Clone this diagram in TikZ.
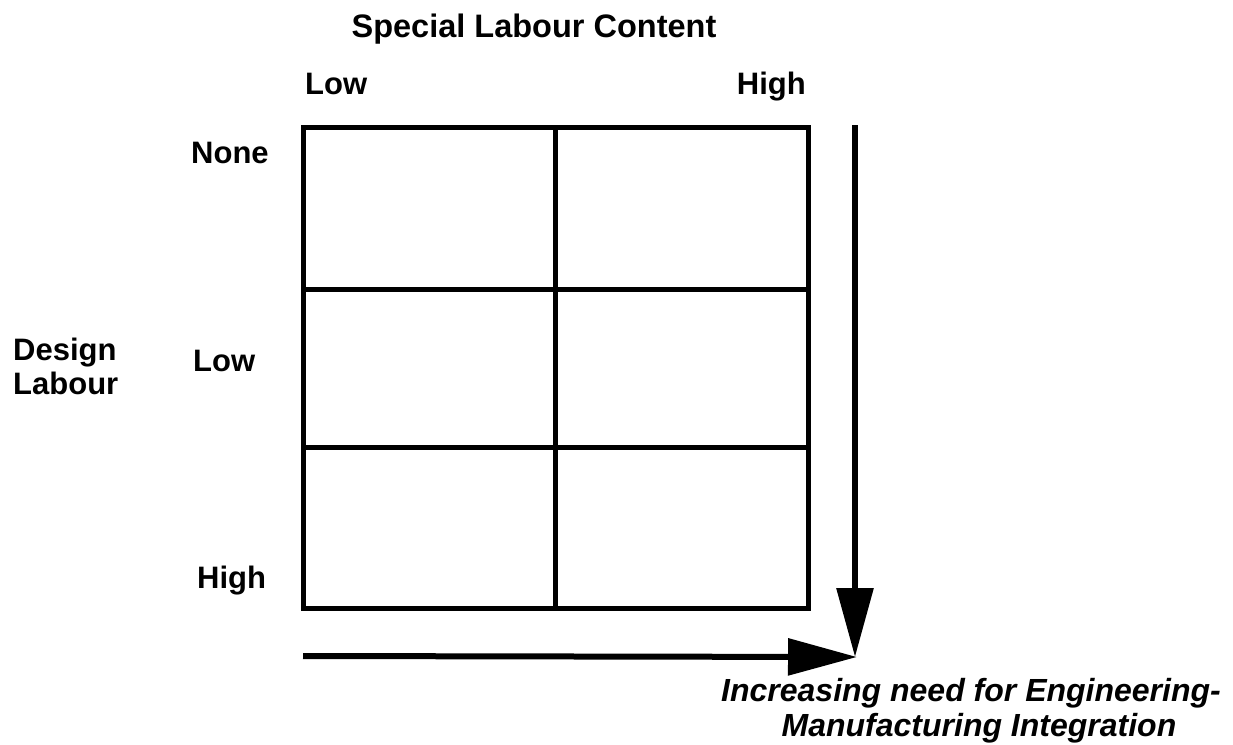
\documentclass[tikz,border=0pt]{standalone}
\usepackage{fontspec}
\setmainfont{Liberation Sans}
\usetikzlibrary{arrows.meta}
\tikzset{
  lbl/.style={font=\fontsize{31}{31}\selectfont\bfseries, inner sep=0pt},
  ttl/.style={font=\fontsize{32.5}{33}\selectfont\bfseries, inner sep=0pt},
  note/.style={font=\fontsize{32}{33}\selectfont\bfseries\itshape, inner sep=0pt, align=center},
  gridline/.style={line width=5pt},
  bigarrow/.style={line width=6pt, -{Triangle[length=69pt,width=36pt]}}
}
\begin{document}
\begin{tikzpicture}[x=1pt,y=-1pt]
\useasboundingbox (0,0) rectangle (1233,744);
% grid
\draw[gridline, line join=miter] (303,127) rectangle (808,608);
\draw[gridline] (555,127) -- (555,608);
\draw[gridline] (303,289) -- (808,289);
\draw[gridline] (303,447) -- (808,447);
% arrows
\coordinate (vstart) at (855,125);
\coordinate (hstart) at (303,656);
\coordinate (tip) at (857,657);
\draw[bigarrow] (vstart) -- (vstart |- tip);
\draw[bigarrow] (hstart) -- (tip);
% labels
\node[ttl, anchor=base] (title) at (534,37) {Special Labour Content};
\node[lbl, anchor=base west] (collow) at (305,94) {Low};
\node[lbl, anchor=base east] (colhigh) at (806,94) {High};
\node[lbl, anchor=base west] (rownone) at (191,163) {None};
\node[lbl, anchor=base west] (rowlow) at (193,371) {Low};
\node[lbl, anchor=base west] (rowhigh) at (197,588) {High};
\node[lbl, anchor=base west] (design) at (13,360) {Design};
\node[lbl, anchor=base west] (labour) at (13,394) {Labour};
\node[note, anchor=base] (need1) at (971,701) {Increasing need for Engineering-};
\node[note, anchor=base] (need2) at (979,736) {Manufacturing Integration};
\end{tikzpicture}
\end{document}
